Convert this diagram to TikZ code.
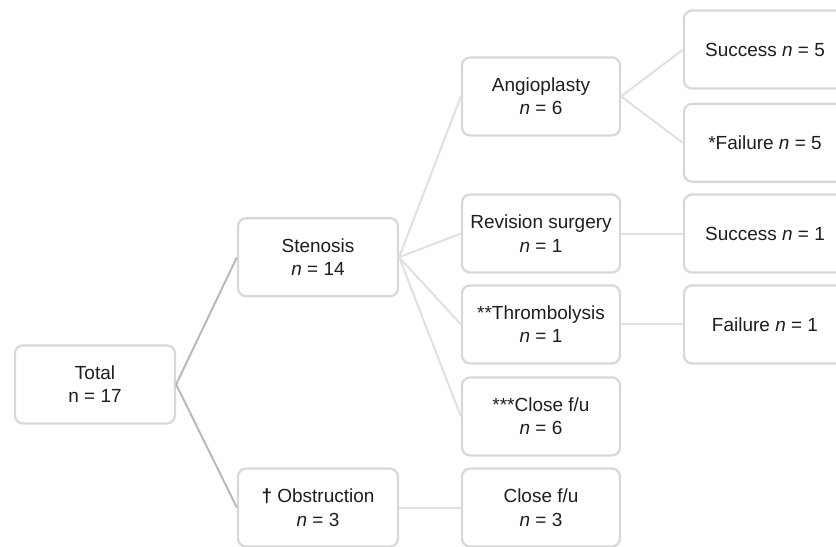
\documentclass[tikz,border=0pt]{standalone}
\usepackage{fontspec}
\setmainfont{Liberation Sans}
\usepackage{tikz}
\usetikzlibrary{positioning}
\usepackage{xcolor}
\definecolor{boxline}{RGB}{216, 216, 216}
\definecolor{edgelight}{RGB}{224, 224, 224}
\definecolor{edgedark}{RGB}{184, 184, 188}
\definecolor{txt}{RGB}{30, 30, 30}

\tikzset{
  outcome/.style={draw=boxline, line width=1.6pt, rounded corners=0.2cm,
    fill=white, align=center, text=txt, minimum height=1.95cm,
    font=\fontsize{13.5}{16.6}\selectfont},
}

\begin{document}
\begin{tikzpicture}
      \useasboundingbox (0,0) rectangle (20.9,13.65);
      \clip (0,0) rectangle (20.9,13.65);
      % first split
      \node[outcome, minimum width=4cm] (tot) at (2.375,4.04) {Total\\n = 17};
      \node[outcome, minimum width=4cm] (sten) at (7.95,7.22) {Stenosis\\\textit{n} = 14};
      \node[outcome, minimum width=4cm] (obs) at (7.95,0.96) {\textbf{†} Obstruction\\\textit{n} = 3};
      % treatment
      \node[outcome, minimum width=3.95cm] (angio) at (13.525,11.24) {Angioplasty\\\textit{n} = 6};
      \node[outcome, minimum width=3.95cm] (rev) at (13.525,7.81) {Revision surgery\\\textit{n} = 1};
      \node[outcome, minimum width=3.95cm] (thromb) at (13.525,5.54) {**Thrombolysis\\\textit{n} = 1};
      \node[outcome, minimum width=3.95cm] (clsix) at (13.525,3.24) {***Close f/u\\\textit{n} = 6};
      \node[outcome, minimum width=3.95cm] (clthree) at (13.525,0.96) {Close f/u\\\textit{n} = 3};
      % result
      \node[outcome, minimum width=4.05cm] (succa) at (19.125,12.41) {Success \textit{n} = 5};
      \node[outcome, minimum width=4.05cm] (faila) at (19.125,10.08) {*Failure \textit{n} = 5};
      \node[outcome, minimum width=4.05cm] (succb) at (19.125,7.81) {Success \textit{n} = 1};
      \node[outcome, minimum width=4.05cm] (failb) at (19.125,5.54) {Failure \textit{n} = 1};
      % connectors
      \draw[edgedark, line width=1.4pt] (tot.east) -- (sten.west);
      \draw[edgedark, line width=1.4pt] (tot.east) -- (obs.west);
      \draw[edgelight, line width=1.4pt] (sten.east) -- (angio.west);
      \draw[edgelight, line width=1.4pt] (sten.east) -- (rev.west);
      \draw[edgelight, line width=1.4pt] (sten.east) -- (thromb.west);
      \draw[edgelight, line width=1.4pt] (sten.east) -- (clsix.west);
      \draw[edgelight, line width=1.4pt] (obs.east) -- (clthree.west);
      \draw[edgelight, line width=1.4pt] (angio.east) -- (succa.west);
      \draw[edgelight, line width=1.4pt] (angio.east) -- (faila.west);
      \draw[edgelight, line width=1.4pt] (rev.east) -- (succb.west);
      \draw[edgelight, line width=1.4pt] (thromb.east) -- (failb.west);
    \end{tikzpicture}
\end{document}
